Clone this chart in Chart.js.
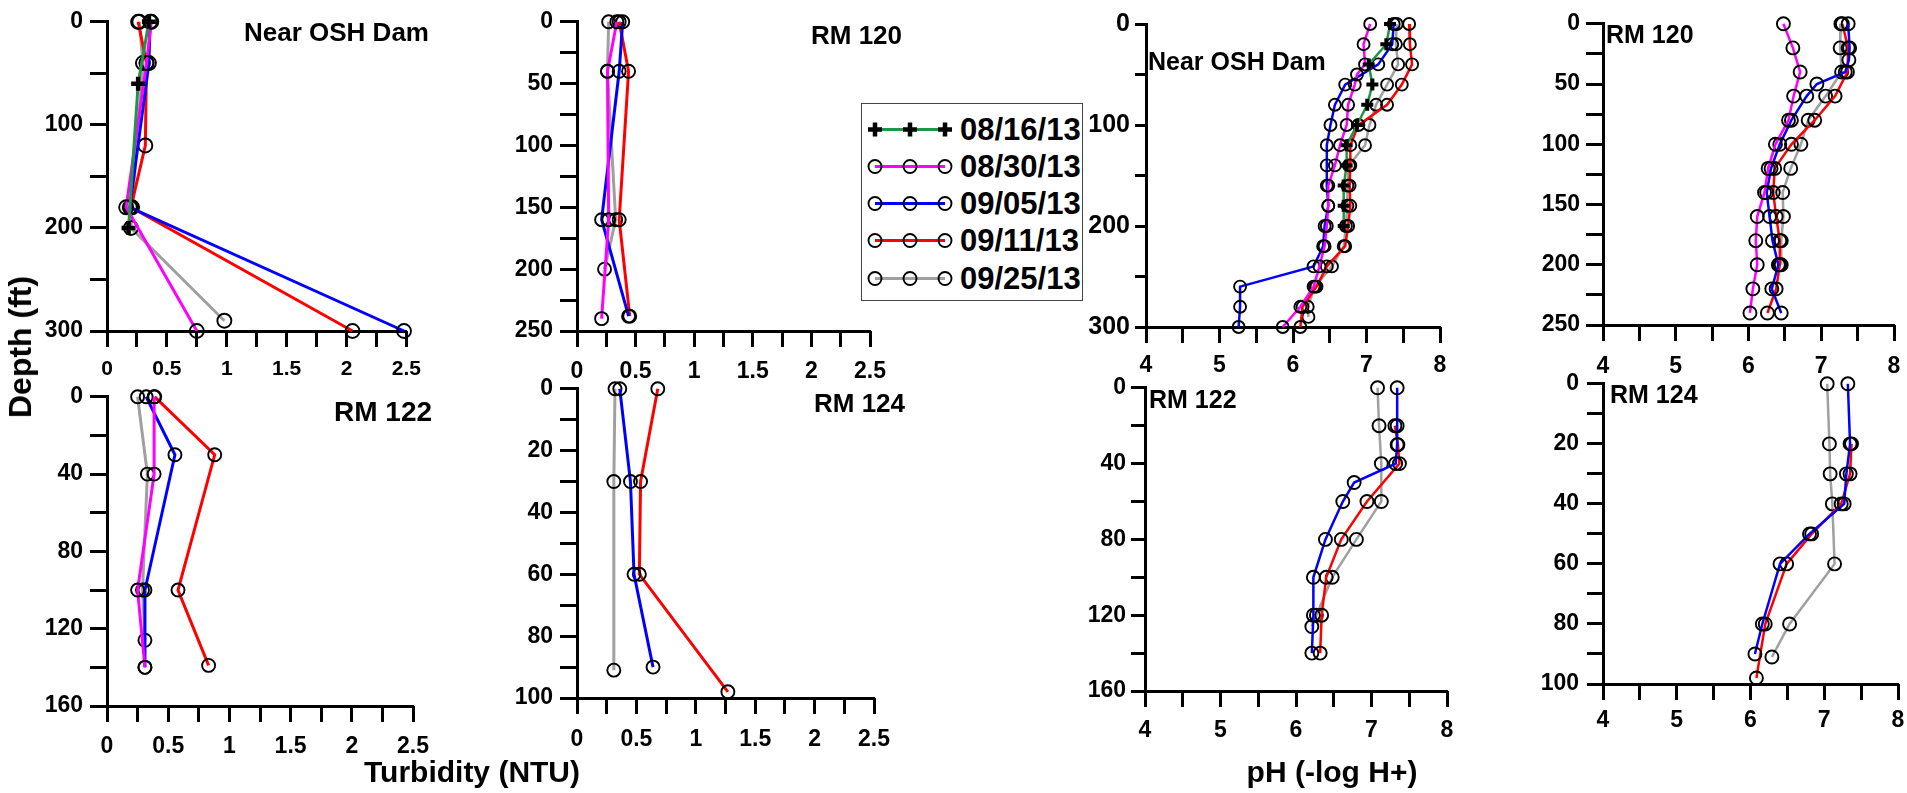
<!DOCTYPE html>
<html><head><meta charset="utf-8">
<script src="https://cdn.jsdelivr.net/npm/chart.js@4.4.1/dist/chart.umd.min.js"></script>
<style>
html,body{margin:0;padding:0;background:#fff;}
body{width:1907px;height:793px;position:relative;overflow:hidden;font-family:"Liberation Sans",Arial,Helvetica,sans-serif;}
canvas.cv{position:absolute;}
.t{position:absolute;white-space:nowrap;line-height:1;font-weight:bold;color:#000;}
.tk{position:absolute;background:#000;}
#legend{position:absolute;left:861px;top:103px;width:220px;height:196px;border:1.5px solid #444;background:#fff;}
.lrow{position:absolute;left:0;height:31px;display:flex;align-items:center;}
.lrow span{font-weight:bold;font-size:31px;line-height:31px;margin-left:6px;}
</style></head>
<body>
<div id="legend"></div>
<script>
// ---------- series ----------
const SERIES = ['08/16/13','08/30/13','09/05/13','09/11/13','09/25/13'];
const COLORS = ['#1e9646','#ff00ff','#0000ff','#ff0000','#a0a0a0'];
const MARKERS = ['cross','circle','circle','circle','circle'];

// ---------- Turbidity (NTU): Near OSH Dam ----------
const turbDam_d0816=[0,60,200],                 turbDam_v0816=[0.35,0.26,0.18];
const turbDam_d0830=[0,40,180,300],             turbDam_v0830=[0.37,0.33,0.16,0.75];
const turbDam_d0905=[0,40,180,300],             turbDam_v0905=[0.36,0.35,0.19,2.48];
const turbDam_d0911=[0,40,120,180,300],         turbDam_v0911=[0.26,0.33,0.32,0.20,2.05];
const turbDam_d0925=[0,40,180,200,290],         turbDam_v0925=[0.27,0.30,0.21,0.20,0.98];

// ---------- Turbidity: RM 120 ----------
const turb120_d0830=[0,40,160,240], turb120_v0830=[0.34,0.26,0.27,0.21];
const turb120_d0905=[0,40,160,238], turb120_v0905=[0.39,0.36,0.21,0.44];
const turb120_d0911=[0,40,160,238], turb120_v0911=[0.36,0.44,0.36,0.45];
const turb120_d0925=[0,40,160,200], turb120_v0925=[0.27,0.26,0.33,0.235];

// ---------- Turbidity: RM 122 ----------
const turb122_d0830=[0,40,100,140], turb122_v0830=[0.385,0.385,0.25,0.31];
const turb122_d0905=[0,30,100,140], turb122_v0905=[0.32,0.555,0.31,0.31];
const turb122_d0911=[0,30,100,139], turb122_v0911=[0.39,0.88,0.58,0.83];
const turb122_d0925=[0,40,100,126], turb122_v0925=[0.25,0.33,0.29,0.31];

// ---------- Turbidity: RM 124 ----------
const turb124_d0905=[0,30,60,90], turb124_v0905=[0.36,0.45,0.48,0.64];
const turb124_d0911=[0,30,60,98], turb124_v0911=[0.68,0.535,0.525,1.27];
const turb124_d0925=[0,30,91],    turb124_v0925=[0.32,0.31,0.31];

// ---------- pH: Near OSH Dam ----------
const phDam_d0816=[0,20,40,60,80,100,120,140,160,180,200];
const phDam_v0816=[7.32,7.27,7.03,7.08,7.01,6.87,6.73,6.73,6.69,6.69,6.69];
const phDam_d0830=[0,20,40,50,60,80,100,120,140,160,180,200,220,240,260,280,300];
const phDam_v0830=[7.05,6.96,6.98,6.87,6.84,6.75,6.73,6.64,6.57,6.48,6.48,6.46,6.43,6.36,6.28,6.10,5.86];
const phDam_d0905=[0,20,40,60,80,100,120,140,160,180,200,220,240,260,280,300];
const phDam_v0905=[7.37,7.35,7.16,6.71,6.57,6.51,6.46,6.46,6.46,6.48,6.43,6.41,6.28,5.28,5.28,5.26];
const phDam_d0911=[0,20,40,60,80,100,120,140,160,180,200,220,240,260,280,300];
const phDam_v0911=[7.58,7.59,7.62,7.48,7.28,6.89,6.78,6.78,6.77,6.78,6.75,6.71,6.46,6.32,6.13,6.10];
const phDam_d0925=[0,20,40,60,80,100,120,140,160,180,200,220,240,260,280,290];
const phDam_v0925=[7.41,7.40,7.43,7.28,7.13,7.04,6.98,6.76,6.74,6.74,6.72,6.69,6.53,6.30,6.20,6.21];

// ---------- pH: RM 120 ----------
const ph120_d0830=[0,20,40,60,80,100,120,140,160,180,200,220,240];
const ph120_v0830=[6.48,6.61,6.71,6.62,6.55,6.37,6.27,6.22,6.12,6.10,6.12,6.06,6.02];
const ph120_d0905=[0,20,30,40,50,60,80,100,120,140,160,180,200,220,240];
const ph120_v0905=[7.37,7.39,7.38,7.33,6.94,6.80,6.59,6.43,6.31,6.25,6.29,6.33,6.41,6.32,6.45];
const ph120_d0911=[0,20,40,60,80,100,120,140,160,180,200,220,240];
const ph120_v0911=[7.29,7.37,7.36,7.19,6.91,6.59,6.36,6.34,6.38,6.43,6.43,6.38,6.26];
const ph120_d0925=[0,20,40,60,80,100,120,140,160,180,200];
const ph120_v0925=[7.27,7.26,7.28,7.06,6.82,6.72,6.58,6.47,6.48,6.45,6.45];

// ---------- pH: RM 122 ----------
const ph122_d0905=[0,20,30,40,50,60,80,100,120,140];
const ph122_v0905=[7.34,7.34,7.34,7.32,6.77,6.62,6.39,6.23,6.23,6.21];
const ph122_d0911=[20,30,40,60,80,100,120,140];
const ph122_v0911=[7.31,7.35,7.37,6.94,6.60,6.40,6.34,6.32];
const ph122_d0925=[0,20,40,60,80,100,120,126];
const ph122_v0925=[7.08,7.10,7.13,7.13,6.80,6.48,6.27,6.21];

// ---------- pH: RM 124 ----------
const ph124_d0905=[0,20,30,40,50,60,80,90];
const ph124_v0905=[7.32,7.35,7.30,7.27,6.80,6.40,6.16,6.06];
const ph124_d0911=[20,30,40,50,60,80,98];
const ph124_v0911=[7.37,7.35,7.23,6.83,6.49,6.20,6.08];
const ph124_d0925=[0,20,30,40,60,80,91];
const ph124_v0925=[7.04,7.07,7.08,7.11,7.14,6.53,6.29];

// ---------- axis ranges / ticks ----------
const turbX = {min:0, max:2.5, major:0.5};
const phX   = {min:4, max:8,   major:1};

// ---------- panel layout ----------
const FONT = '"Liberation Sans", Arial, sans-serif';
const panels = [
  {title:'Near OSH Dam', tl:[244,18.6,26], x:turbX, yMax:300, yMajor:100, box:[107,409,17,331], yf:23, xf:21, ytl:17, ypad:7, xpad:10, r:7, lw:3, cr:7, cw:4.5,
   s:[[turbDam_d0816,turbDam_v0816,0],[turbDam_d0830,turbDam_v0830,1],[turbDam_d0905,turbDam_v0905,2],[turbDam_d0911,turbDam_v0911,3],[turbDam_d0925,turbDam_v0925,4]]},
  {title:'RM 120', tl:[811,21.6,26], x:turbX, yMax:250, yMajor:50, box:[577,875,17,331], yf:23, xf:23, ytl:17, ypad:7, xpad:11, r:6.5, lw:3,
   s:[[turb120_d0830,turb120_v0830,1],[turb120_d0905,turb120_v0905,2],[turb120_d0911,turb120_v0911,3],[turb120_d0925,turb120_v0925,4]]},
  {title:'RM 122', tl:[334,398.4,28], x:turbX, yMax:160, yMajor:40, box:[107,418,392,706], yf:23, xf:23, ytl:17, ypad:7, xpad:11, r:6.5, lw:3,
   s:[[turb122_d0830,turb122_v0830,1],[turb122_d0905,turb122_v0905,2],[turb122_d0911,turb122_v0911,3],[turb122_d0925,turb122_v0925,4]]},
  {title:'RM 124', tl:[814,389.6,26], x:turbX, yMax:100, yMajor:20, box:[577,880,384,698], yf:23, xf:23, ytl:17, ypad:7, xpad:12, r:6.5, lw:3,
   s:[[turb124_d0905,turb124_v0905,2],[turb124_d0911,turb124_v0911,3],[turb124_d0925,turb124_v0925,4]]},
  {title:'Near OSH Dam', tl:[1148,48.7,25], x:phX, yMax:300, yMajor:100, box:[1146,1440,20,327], yf:25, xf:23, ytl:11, ypad:5, xpad:9, r:6, lw:2.5, cr:6, cw:4,
   s:[[phDam_d0816,phDam_v0816,0],[phDam_d0830,phDam_v0830,1],[phDam_d0905,phDam_v0905,2],[phDam_d0911,phDam_v0911,3],[phDam_d0925,phDam_v0925,4]]},
  {title:'RM 120', tl:[1606,21.7,25], x:phX, yMax:250, yMajor:50, box:[1603,1894,20,325], yf:23, xf:23, ytl:17, ypad:6, xpad:12, r:6.5, lw:2.5,
   s:[[ph120_d0830,ph120_v0830,1],[ph120_d0905,ph120_v0905,2],[ph120_d0911,ph120_v0911,3],[ph120_d0925,ph120_v0925,4]]},
  {title:'RM 122', tl:[1149,386.7,25], x:phX, yMax:160, yMajor:40, box:[1145,1447,385,691], yf:23, xf:23, ytl:14, ypad:5, xpad:10, r:6.5, lw:2.5,
   s:[[ph122_d0905,ph122_v0905,2],[ph122_d0911,ph122_v0911,3],[ph122_d0925,ph122_v0925,4]]},
  {title:'RM 124', tl:[1610,381.7,25], x:phX, yMax:100, yMajor:20, box:[1603,1898,378,684], yf:23, xf:23, ytl:16, ypad:8, xpad:7, r:6.5, lw:2.5,
   s:[[ph124_d0905,ph124_v0905,2],[ph124_d0911,ph124_v0911,3],[ph124_d0925,ph124_v0925,4]]}
];

const W_Y = 90, H_X = 60, PAD_T = 16, PAD_R = 22;
const isMaj = (v, base, step) => { const q=(v-base)/step; return Math.abs(q-Math.round(q))<1e-6; };
const fmt = v => String(Math.round(v*1000)/1000);
const tickDivs = [];

panels.forEach((p,i)=>{
  const [L,R,T,B]=p.box;
  const cl=L-W_Y, ct=T-PAD_T, cw=R+PAD_R-cl, ch=B+H_X-ct;
  const cv=document.createElement('canvas');
  cv.className='cv'; cv.width=cw; cv.height=ch;
  cv.style.left=cl+'px'; cv.style.top=ct+'px'; cv.style.width=cw+'px'; cv.style.height=ch+'px';
  document.body.appendChild(cv);

  const datasets=p.s.map(([d,v,k])=>({
    label:SERIES[k],
    data:d.map((dd,j)=>({x:v[j],y:dd})),
    showLine:true, tension:0,
    borderColor:COLORS[k], borderWidth:p.lw,
    pointStyle:MARKERS[k],
    pointRadius: MARKERS[k]==='cross' ? (p.cr||6) : p.r,
    pointBorderColor:'#000',
    pointBorderWidth: MARKERS[k]==='cross' ? (p.cw||3.5) : 1.9,
    pointBackgroundColor:'rgba(0,0,0,0)',
    clip:false
  }));

  const tickFont = sz => ({family:FONT,size:sz,weight:'bold'});
  const chart = new Chart(cv,{
    type:'scatter',
    data:{datasets},
    options:{
      responsive:false, animation:false, events:[],
      layout:{padding:{left:0,top:PAD_T,right:PAD_R,bottom:0}},
      plugins:{legend:{display:false},tooltip:{enabled:false}},
      scales:{
        x:{type:'linear',position:'bottom',min:p.x.min,max:p.x.max,
           ticks:{stepSize:p.x.major/2,autoSkip:false,maxRotation:0,padding:p.xpad,color:'#000',font:tickFont(p.xf),
                  callback:v=>isMaj(v,p.x.min,p.x.major)?fmt(v):''},
           grid:{drawOnChartArea:false,drawTicks:true,tickLength:16,tickWidth:3,tickColor:'#000'},
           border:{display:true,color:'#000',width:3},
           afterFit(s){s.height=H_X;}},
        y:{type:'linear',position:'left',reverse:true,min:0,max:p.yMax,
           ticks:{stepSize:p.yMajor/2,autoSkip:false,padding:p.ypad,color:'#000',font:tickFont(p.yf),
                  callback:v=>isMaj(v,0,p.yMajor)?fmt(v):''},
           grid:{drawOnChartArea:false,drawTicks:true,tickLength:p.ytl,tickWidth:3,tickColor:'#000'},
           border:{display:true,color:'#000',width:3},
           afterFit(s){s.width=W_Y;}}
      }
    }
  });

  // tick marks (major long, minor short), positioned from the chart's own scales
  const a=chart.chartArea, xs=chart.scales.x, ys=chart.scales.y;
  xs.ticks.forEach(t=>{
    const px=xs.getPixelForValue(t.value);
    const len=isMaj(t.value,p.x.min,p.x.major)?16:9;
    tickDivs.push({left:cl+px-1.5, top:ct+a.bottom, w:3, h:len});
  });
  ys.ticks.forEach(t=>{
    const py=ys.getPixelForValue(t.value);
    const len=isMaj(t.value,0,p.yMajor)?p.ytl:9;
    tickDivs.push({left:cl+a.left-len, top:ct+py-1.5, w:len, h:3});
  });

  const tt=document.createElement('div');
  tt.className='t'; tt.textContent=p.title;
  tt.style.left=p.tl[0]+'px'; tt.style.top=p.tl[1]+'px'; tt.style.fontSize=p.tl[2]+'px';
  document.body.appendChild(tt);
});

tickDivs.forEach(d=>{
  const e=document.createElement('div'); e.className='tk';
  e.style.left=d.left+'px'; e.style.top=d.top+'px'; e.style.width=d.w+'px'; e.style.height=d.h+'px';
  document.body.appendChild(e);
});

// ---------- axis titles ----------
function addText(txt, css){ const d=document.createElement('div'); d.className='t'; d.textContent=txt; Object.assign(d.style,css); document.body.appendChild(d); return d; }
addText('Depth (ft)',{left:'20px',top:'347px',fontSize:'32px',transform:'translate(-50%,-50%) rotate(-90deg)'});
addText('Turbidity (NTU)',{left:'472px',top:'757px',fontSize:'30px',transform:'translateX(-50%)'});
addText('pH (-log H+)',{left:'1332px',top:'757px',fontSize:'30px',transform:'translateX(-50%)'});

// ---------- legend ----------
const legend=document.getElementById('legend');
const rowCenters=[25,62,99,136,174];
SERIES.forEach((name,k)=>{
  const row=document.createElement('div'); row.className='lrow';
  row.style.top=(rowCenters[k]-15.5)+'px'; row.style.left='4px';
  const ns='http://www.w3.org/2000/svg';
  const svg=document.createElementNS(ns,'svg'); svg.setAttribute('width','88'); svg.setAttribute('height','31');
  const ln=document.createElementNS(ns,'line');
  ln.setAttribute('x1','9'); ln.setAttribute('x2','79'); ln.setAttribute('y1','15.5'); ln.setAttribute('y2','15.5');
  ln.setAttribute('stroke',COLORS[k]); ln.setAttribute('stroke-width','3');
  svg.appendChild(ln);
  [9,44,79].forEach(cx=>{
    if(MARKERS[k]==='cross'){
      const pth=document.createElementNS(ns,'path');
      pth.setAttribute('d',`M${cx-7} 15.5 H${cx+7} M${cx} 8.5 V22.5`);
      pth.setAttribute('stroke','#000'); pth.setAttribute('stroke-width','4.5'); pth.setAttribute('fill','none');
      svg.appendChild(pth);
    } else {
      const c=document.createElementNS(ns,'circle');
      c.setAttribute('cx',cx); c.setAttribute('cy','15.5'); c.setAttribute('r','6.5');
      c.setAttribute('stroke','#000'); c.setAttribute('stroke-width','1.9'); c.setAttribute('fill','none');
      svg.appendChild(c);
    }
  });
  row.appendChild(svg);
  const sp=document.createElement('span'); sp.textContent=name; row.appendChild(sp);
  legend.appendChild(row);
});
</script>
</body></html>
